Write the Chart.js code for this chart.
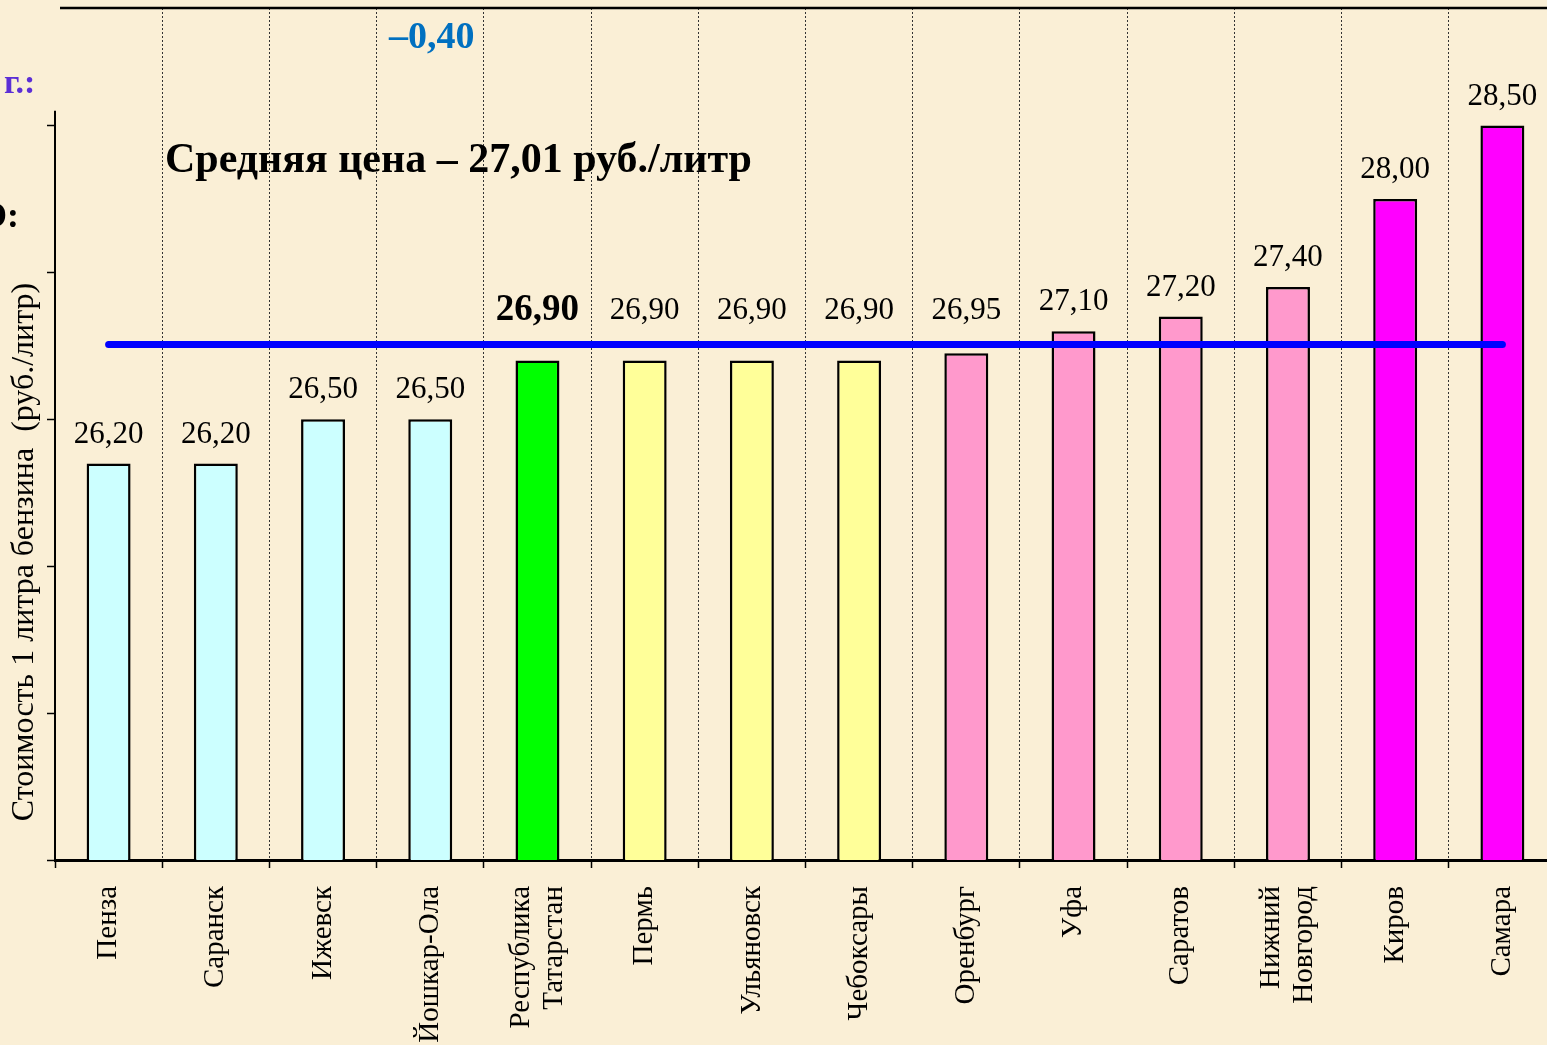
<!DOCTYPE html>
<html lang="ru">
<head>
<meta charset="utf-8">
<title>Стоимость 1 литра бензина</title>
<script src="https://cdn.jsdelivr.net/npm/chart.js@4.4.1/dist/chart.umd.min.js"></script>
<style>
  html, body { margin: 0; padding: 0; overflow: hidden; background: #faefd6; }
  #wrap { position: relative; width: 1547px; height: 1045px; overflow: hidden; }
  canvas { position: absolute; left: 0; top: 0; }
</style>
</head>
<body>
<div id="wrap"><canvas id="priceChart" width="1560" height="1045"></canvas></div>
<script>
// данные
const cities = ['Пенза', 'Саранск', 'Ижевск', 'Йошкар-Ола', ['Республика', 'Татарстан'], 'Пермь',
  'Ульяновск', 'Чебоксары', 'Оренбург', 'Уфа', 'Саратов', ['Нижний', 'Новгород'], 'Киров', 'Самара'];
const prices = [26.20, 26.20, 26.50, 26.50, 26.90, 26.90, 26.90, 26.90, 26.95, 27.10, 27.20, 27.40, 28.00, 28.50];
const avgPrice = 27.01;
const yTicks = [23.5, 24.5, 25.5, 26.5, 27.5, 28.5];
const yMin = 23.5, yMax = 29.3, yAxisTop = 28.6;
const highlightCity = 4; // Республика Татарстан

const barColors = ['#ccffff', '#ccffff', '#ccffff', '#ccffff', '#00ff00', '#ffff99', '#ffff99', '#ffff99',
  '#ff99cc', '#ff99cc', '#ff99cc', '#ff99cc', '#ff00ff', '#ff00ff'];
const serif = '"Liberation Serif", "Times New Roman", serif';

const fmt = v => v.toFixed(2).replace('.', ',');

// подписи, рамка и ось Y
const extras = {
    id: 'extras',
    afterDraw(chart) {
        const ctx = chart.ctx;
        const area = chart.chartArea;
        const x = chart.scales.x;
        const y = chart.scales.y;
        ctx.save();

        // верхняя линия рамки
        ctx.strokeStyle = '#000';
        ctx.lineWidth = 2.5;
        ctx.beginPath();
        ctx.moveTo(60, area.top);
        ctx.lineTo(chart.width, area.top);
        ctx.stroke();

        // ось Y (короче области графика)
        ctx.lineWidth = 2;
        ctx.beginPath();
        ctx.moveTo(area.left, y.getPixelForValue(yAxisTop));
        ctx.lineTo(area.left, area.bottom);
        ctx.stroke();

        // значения над столбцами
        const lineY = y.getPixelForValue(avgPrice);
        const meta = chart.getDatasetMeta(1);
        ctx.fillStyle = '#000';
        ctx.textAlign = 'center';
        ctx.textBaseline = 'middle';
        meta.data.forEach((bar, i) => {
            let ly = bar.y - 29;
            if (ly + 18 > lineY - 4 && ly - 18 < lineY + 4) ly = lineY - 34;
            ctx.font = i === highlightCity ? 'bold 37px ' + serif : '31px ' + serif;
            ctx.fillText(fmt(prices[i]), bar.x, ly);
        });

        // подписи категорий (повёрнуты)
        const lh = 33;
        ctx.font = '29px ' + serif;
        ctx.textAlign = 'right';
        cities.forEach((c, i) => {
            const lines = Array.isArray(c) ? c : [c];
            ctx.save();
            ctx.translate(x.getPixelForValue(i), area.bottom + 26);
            ctx.rotate(-Math.PI / 2);
            lines.forEach((t, j) => {
                ctx.fillText(t, 0, (j - (lines.length - 1) / 2) * lh);
            });
            ctx.restore();
        });

        // заголовок оси Y
        ctx.save();
        ctx.translate(25, 552);
        ctx.rotate(-Math.PI / 2);
        ctx.textAlign = 'center';
        ctx.font = '32px ' + serif;
        ctx.fillText('Стоимость 1 литра бензина  (руб./литр)', 0, 0);
        ctx.restore();

        // надписи
        ctx.textBaseline = 'alphabetic';
        ctx.textAlign = 'left';
        ctx.font = 'bold 42px ' + serif;
        ctx.fillText('Средняя цена – ' + fmt(avgPrice) + ' руб./литр', 165, 172);

        ctx.fillStyle = '#0070c0';
        ctx.font = 'bold 38px ' + serif;
        ctx.fillText('–0,40', 389, 48);

        ctx.fillStyle = '#5b2ed6';
        ctx.font = 'bold 34px ' + serif;
        ctx.fillText('г.:', 4, 93);

        ctx.fillStyle = '#000';
        ctx.textAlign = 'right';
        ctx.font = 'bold 36px ' + serif;
        ctx.fillText('О:', 19, 227);

        ctx.restore();
    }
};

const ctx = document.getElementById('priceChart').getContext('2d');
const myChart = new Chart(ctx, {
    type: 'bar',
    data: {
        labels: cities,
        datasets: [
            {
                type: 'line',
                label: 'Средняя цена',
                data: cities.map(() => avgPrice),
                borderColor: '#0000ff',
                borderWidth: 7,
                borderCapStyle: 'round',
                pointRadius: 0,
                order: 0
            },
            {
                label: 'Цена',
                data: prices,
                backgroundColor: barColors,
                borderColor: '#000',
                borderWidth: 2.5,
                barPercentage: 0.41,
                categoryPercentage: 1,
                order: 1
            }
        ]
    },
    options: {
        responsive: false,
        devicePixelRatio: 1,
        animation: false,
        layout: { padding: { top: 8, right: 4, left: 0, bottom: 0 } },
        plugins: {
            legend: { display: false },
            tooltip: { enabled: false }
        },
        scales: {
            x: {
                afterFit: s => { s.height = 185; },
                grid: {
                    offset: true,
                    color: c => c.index === 0 ? 'rgba(0,0,0,0)' : '#333',
                    lineWidth: 1,
                    drawTicks: true,
                    tickLength: 8,
                    tickColor: '#000',
                    tickWidth: 1.5
                },
                border: { display: true, color: '#000', width: 3, dash: [2, 2] },
                ticks: { display: false }
            },
            y: {
                min: yMin,
                max: yMax,
                afterFit: s => { s.width = 55; },
                afterBuildTicks: s => { s.ticks = yTicks.map(v => ({ value: v })); },
                grid: {
                    drawOnChartArea: false,
                    drawTicks: true,
                    tickLength: 8,
                    tickColor: '#000',
                    tickWidth: 1.5
                },
                border: { display: false },
                ticks: { display: false }
            }
        }
    },
    plugins: [extras]
});
</script>
</body>
</html>
